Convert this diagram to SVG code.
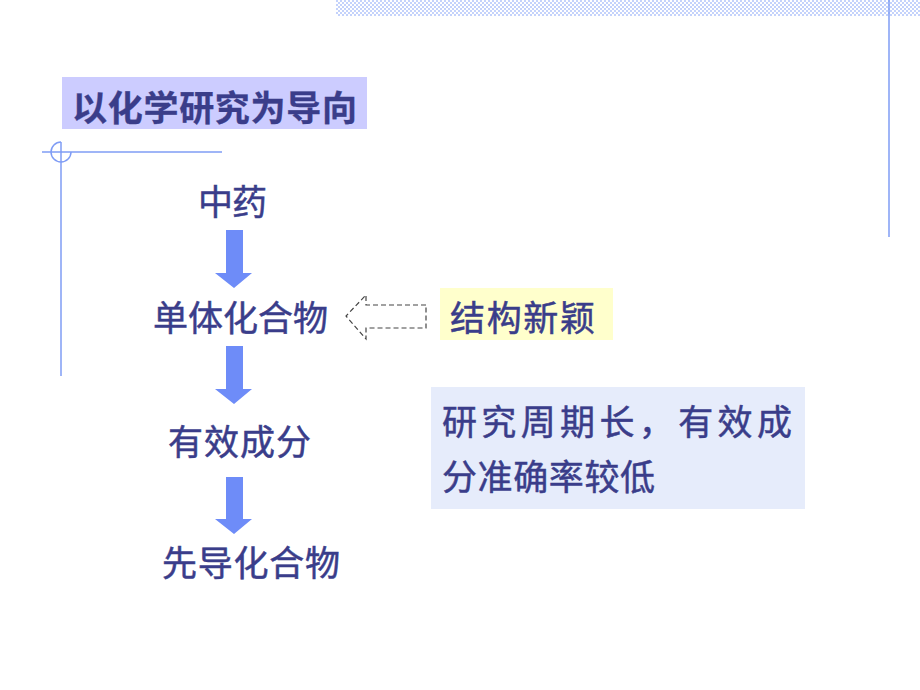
<svg xmlns="http://www.w3.org/2000/svg" width="920" height="690" viewBox="0 0 920 690">
<defs>
<pattern id="chk" width="4" height="4" patternUnits="userSpaceOnUse">
<rect width="4" height="4" fill="#ffffff"/>
<rect x="0" y="0" width="2" height="2" fill="#c4d2fb"/>
<rect x="2" y="2" width="2" height="2" fill="#c4d2fb"/>
</pattern>
<style>
.t{font-family:"Noto Sans CJK SC","Noto Sans CJK JP",sans-serif;fill:#3a3d8a;stroke:#3a3d8a;stroke-width:0.5;font-size:35px}
.b{font-weight:bold;stroke-width:0.3}
.arr{fill:#6e8cf8}
.deco{stroke:#7f9cf5;stroke-width:1.5;fill:none}
</style>
</defs>
<g id="decoration">
<rect x="336" y="0" width="584" height="16" fill="url(#chk)"/>
<line class="deco" x1="889" y1="0" x2="889" y2="237"/>
<line class="deco" x1="42" y1="152" x2="222" y2="152"/>
<line class="deco" x1="61" y1="142" x2="61" y2="376"/>
<path class="deco" d="M61,142 A10,10 0 1,0 71,152"/>
</g>
<g id="title">
<rect x="62" y="77" width="305" height="52" fill="#ccccff"/>
<text class="t b" x="72" y="121" font-size="35" textLength="285" lengthAdjust="spacing">以化学研究为导向</text>
</g>
<g id="n1"><text class="t" x="198" y="215" font-size="34" textLength="69" lengthAdjust="spacing">中药</text></g>
<g id="n2"><text class="t" x="153" y="331" textLength="175" lengthAdjust="spacing">单体化合物</text></g>
<g id="n3"><text class="t" x="168" y="455" textLength="143" lengthAdjust="spacing">有效成分</text></g>
<g id="n4"><text class="t" x="162" y="576" textLength="178" lengthAdjust="spacing">先导化合物</text></g>
<g id="note1">
<rect x="440" y="288" width="173" height="52" fill="#ffffcc"/>
<text class="t" x="450" y="331" textLength="145" lengthAdjust="spacing">结构新颖</text>
</g>
<g id="note2">
<rect x="431" y="387" width="374" height="122" fill="#e6ecfb"/>
<text class="t" x="442" y="435" font-size="34" textLength="350" lengthAdjust="spacing">研究周期长，有效成</text>
<text class="t" x="442" y="490" textLength="213" lengthAdjust="spacing">分准确率较低</text>
</g>
<g id="connectors">
<polygon class="arr" points="226,230 243,230 243,273 252,273 234,288 215,273 226,273"/>
<polygon class="arr" points="226,346 243,346 243,389 252,389 234,404 215,389 226,389"/>
<polygon class="arr" points="226,477 243,477 243,519 252,519 234,534 215,519 226,519"/>
<polygon points="426,305 366,305 366,295 346,316 366,339 366,328 426,328" fill="none" stroke="#444444" stroke-width="1.2" stroke-dasharray="5,3"/>
</g>
</svg>
